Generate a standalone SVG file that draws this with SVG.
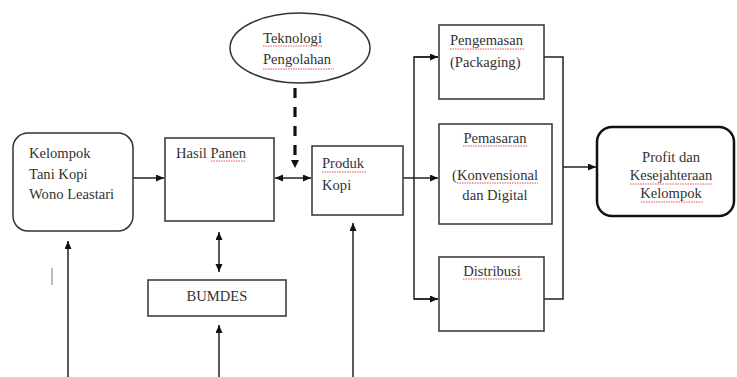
<svg xmlns="http://www.w3.org/2000/svg" width="737" height="377" viewBox="0 0 737 377">
<defs>
<style>
.box{fill:#fff;stroke:#333;stroke-width:1.5}
.bold{fill:#fff;stroke:#111;stroke-width:2.5}
.t{font-family:"Liberation Serif","Times New Roman",serif;font-size:14.6px;fill:#333}
.c{text-anchor:middle}
.ln{fill:none;stroke:#222;stroke-width:1.5}
.sq{fill:none;stroke:#e05050;stroke-width:1;stroke-dasharray:1.5 1}
</style>
<marker id="ah" markerUnits="userSpaceOnUse" markerWidth="9" markerHeight="8" refX="8" refY="3.5" orient="auto-start-reverse">
<path d="M0,0 L8,3.5 L0,7 z" fill="#111"/>
</marker>
</defs>
<rect width="737" height="377" fill="#fff"/>

<g id="connectors">
<line class="ln" x1="133" y1="178" x2="164" y2="178" marker-end="url(#ah)"/>
<line class="ln" x1="275" y1="178" x2="311" y2="178" marker-start="url(#ah)" marker-end="url(#ah)"/>
<line x1="295" y1="88" x2="295" y2="160" stroke="#111" stroke-width="3.2" stroke-dasharray="10 9"/>
<path d="M291,160 L299,160 L295,168 z" fill="#111"/>
<line class="ln" x1="403" y1="178" x2="438" y2="178" marker-end="url(#ah)"/>
<polyline class="ln" points="438,57 414,57 414,299 438,299"/>
<line class="ln" x1="414" y1="57" x2="438" y2="57" marker-end="url(#ah)"/>
<line class="ln" x1="414" y1="299" x2="438" y2="299" marker-end="url(#ah)"/>
<polyline class="ln" points="544,57 563,57 563,299 544,299"/>
<line class="ln" x1="563" y1="167" x2="596" y2="167" marker-end="url(#ah)"/>
<line class="ln" x1="219" y1="232" x2="219" y2="272" marker-start="url(#ah)" marker-end="url(#ah)"/>
<line class="ln" x1="219" y1="377" x2="219" y2="325" marker-end="url(#ah)"/>
<line class="ln" x1="68" y1="377" x2="68" y2="241" marker-end="url(#ah)"/>
<line class="ln" x1="353" y1="377" x2="353" y2="223" marker-end="url(#ah)"/>
<line x1="52" y1="268" x2="52" y2="285" stroke="#bbb" stroke-width="2"/>
</g>

<g id="kelompok">
<rect class="box" x="13" y="133" width="120" height="98" rx="15"/>
<text class="t" x="29" y="158">Kelompok</text>
<text class="t" x="29" y="179">Tani Kopi</text>
<text class="t" x="29" y="199">Wono Leastari</text>
</g>

<g id="hasil-panen">
<rect class="box" x="165" y="138" width="109" height="83"/>
<text class="t" x="176" y="158">Hasil Panen</text>
<path class="sq" d="M211,161 h35"/>
</g>

<g id="teknologi">
<ellipse class="box" cx="300" cy="48" rx="70" ry="35"/>
<text class="t" x="263" y="43">Teknologi</text>
<text class="t" x="263" y="64">Pengolahan</text>
<path class="sq" d="M263,46 h60 M263,69 h71"/>
</g>

<g id="produk-kopi">
<rect class="box" x="312" y="146" width="91" height="69"/>
<text class="t" x="322" y="168">Produk</text>
<text class="t" x="322" y="190">Kopi</text>
<path class="sq" d="M322,172 h44"/>
</g>

<g id="pengemasan">
<rect class="box" x="439" y="25" width="105" height="74"/>
<text class="t" x="450" y="45">Pengemasan</text>
<text class="t" x="450" y="67">(Packaging)</text>
<path class="sq" d="M450,49 h74"/>
</g>

<g id="pemasaran">
<rect class="box" x="439" y="124" width="113" height="100"/>
<text class="t c" x="495" y="143">Pemasaran</text>
<text class="t c" x="495" y="180">(Konvensional</text>
<text class="t c" x="495" y="200">dan Digital</text>
<path class="sq" d="M463,146 h65 M457,183 h81"/>
</g>

<g id="distribusi">
<rect class="box" x="439" y="257" width="105" height="74"/>
<text class="t c" x="492" y="276">Distribusi</text>
<path class="sq" d="M463,279 h59"/>
</g>

<g id="bumdes">
<rect class="box" x="148" y="280" width="138" height="36"/>
<text class="t c" x="217" y="301">BUMDES</text>
</g>

<g id="profit">
<rect class="bold" x="597" y="127" width="137" height="89" rx="15"/>
<text class="t c" x="671" y="162">Profit dan</text>
<text class="t c" x="671" y="180">Kesejahteraan</text>
<text class="t c" x="671" y="198">Kelompok</text>
<path class="sq" d="M630,184 h82 M641,202 h62"/>
</g>
</svg>
